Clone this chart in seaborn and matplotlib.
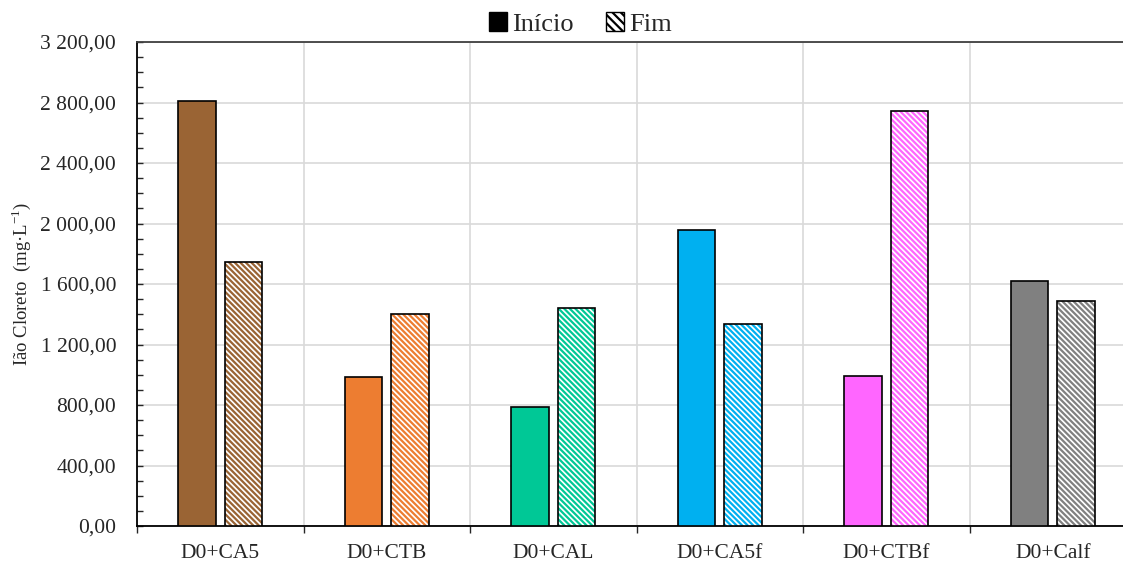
import matplotlib
matplotlib.use("Agg")
import matplotlib.pyplot as plt
import numpy as np
import pandas as pd
import seaborn as sns
from matplotlib.patches import Patch, Rectangle
from matplotlib.ticker import FuncFormatter, MultipleLocator

# dados
amostras = ['D0+CA5', 'D0+CTB', 'D0+CAL', 'D0+CA5f', 'D0+CTBf', 'D0+Calf']
inicio = [2810, 985, 787, 1955, 992, 1620]
fim = [1748, 1400, 1440, 1336, 2745, 1488]
cores = ['#9A6434', '#ED7D31', '#00C896', '#00B0F0', '#FF66FF', '#808080']

df = pd.DataFrame({
    'amostra': amostras * 2,
    'valor': inicio + fim,
    'fase': ['Início'] * len(amostras) + ['Fim'] * len(amostras),
})

sns.set_style('white')
plt.rcParams['font.family'] = ['Liberation Serif', 'DejaVu Serif']
plt.rcParams['hatch.linewidth'] = 1.6

fig = plt.figure(figsize=(11.23, 5.63), dpi=100)
ax = fig.add_axes([0.122, 0.0657, 0.8896, 0.8597])

sns.barplot(data=df, x='amostra', y='valor', hue='fase', order=amostras,
            hue_order=['Início', 'Fim'], width=0.56, gap=0.2, ax=ax,
            legend=False, edgecolor='black', linewidth=1.2, zorder=3)

n = len(amostras)
bars = ax.patches[:2 * n]
for i, b in enumerate(bars):
    c = cores[i % n]
    if i < n:
        b.set_facecolor(c)
    else:
        # barras "Fim" tracejadas
        b.set_facecolor('white')
        b.set_edgecolor(c)
        b.set_hatch('\\' * 6)
        b.set_linewidth(0)
        ax.add_patch(Rectangle((b.get_x(), b.get_y()), b.get_width(), b.get_height(),
                               fill=False, edgecolor='black', linewidth=1.2, zorder=4))

ax.set_ylim(0, 3200)
ax.set_xlim(-0.5, n - 0.5)
ax.yaxis.set_major_locator(MultipleLocator(400))
ax.yaxis.set_minor_locator(MultipleLocator(100))
ax.yaxis.set_major_formatter(FuncFormatter(
    lambda v, p: f'{v:,.2f}'.replace(',', ' ').replace('.', ',')))
ax.set_xticks(np.arange(-0.5, n, 1), minor=True)

ax.tick_params(axis='y', which='both', direction='in', length=4, width=1, labelsize=15.5,
               left=True, pad=15)
ax.tick_params(axis='x', which='major', length=0, labelsize=15.5, pad=13)
ax.tick_params(axis='x', which='minor', direction='out', length=5, width=1, bottom=True)

ax.grid(axis='y', which='major', color='#D9D9D9', linewidth=1.2, zorder=0)
ax.grid(axis='x', which='minor', color='#D9D9D9', linewidth=1.2, zorder=0)
ax.set_axisbelow(True)

for s in ['left', 'bottom']:
    ax.spines[s].set_color('black')
    ax.spines[s].set_linewidth(1.3)
ax.spines['top'].set_color('#404040')
ax.spines['top'].set_linewidth(1.3)
ax.spines['right'].set_visible(False)

ax.set_xlabel('')
ax.set_ylabel('Ião Cloreto  (mg·L$^{\\mathregular{-1}}$)', fontsize=13.5, labelpad=5)

handles = [Patch(facecolor='black', edgecolor='black', label='Início'),
           Patch(facecolor='white', edgecolor='black', hatch='\\' * 4, label='Fim')]
fig.legend(handles=handles, loc='upper center', bbox_to_anchor=(0.517, 1.02), ncol=2,
           frameon=False, fontsize=19, handlelength=0.7, handleheight=0.7,
           handletextpad=0.2, columnspacing=1.2)

fig.savefig('out.png', dpi=100)
